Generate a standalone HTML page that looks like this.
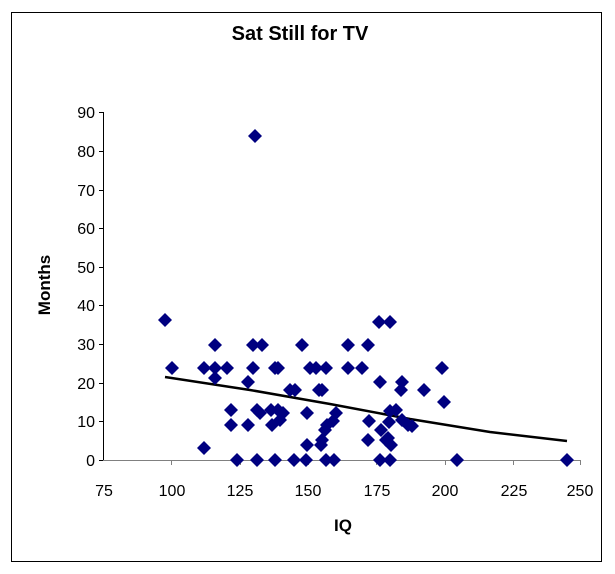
<!DOCTYPE html>
<html><head><style>
body{margin:0;background:#fff;}
svg{display:block;font-family:"Liberation Sans",Arial,sans-serif;}
</style></head><body>
<svg width="615" height="574" viewBox="0 0 615 574">
<rect x="11.5" y="12.5" width="590" height="549" fill="#fff" stroke="#000" stroke-width="1"/>
<text x="300" y="40" font-size="20" font-weight="bold" text-anchor="middle">Sat Still for TV</text>
<g stroke="#000" stroke-width="1">
<line x1="103.5" y1="112" x2="103.5" y2="460"/>
<line x1="99" y1="112.5" x2="103" y2="112.5"/><line x1="99" y1="151.5" x2="103" y2="151.5"/>
<line x1="99" y1="190.5" x2="103" y2="190.5"/><line x1="99" y1="228.5" x2="103" y2="228.5"/>
<line x1="99" y1="267.5" x2="103" y2="267.5"/><line x1="99" y1="305.5" x2="103" y2="305.5"/>
<line x1="99" y1="344.5" x2="103" y2="344.5"/><line x1="99" y1="383.5" x2="103" y2="383.5"/>
<line x1="99" y1="421.5" x2="103" y2="421.5"/><line x1="99" y1="460.5" x2="103" y2="460.5"/>
</g>
<g stroke="#808080" stroke-width="1">
<line x1="103" y1="460.5" x2="580" y2="460.5"/>
<line x1="171.5" y1="460" x2="171.5" y2="465"/><line x1="240.5" y1="460" x2="240.5" y2="465"/>
<line x1="308.5" y1="460" x2="308.5" y2="465"/><line x1="376.5" y1="460" x2="376.5" y2="465"/>
<line x1="445.5" y1="460" x2="445.5" y2="465"/><line x1="513.5" y1="460" x2="513.5" y2="465"/>
<line x1="580.5" y1="460" x2="580.5" y2="465"/>
</g>
<g font-size="16" text-anchor="end">
<text x="95" y="118">90</text><text x="95" y="157">80</text><text x="95" y="196">70</text>
<text x="95" y="234">60</text><text x="95" y="273">50</text><text x="95" y="311">40</text>
<text x="95" y="350">30</text><text x="95" y="389">20</text><text x="95" y="427">10</text>
<text x="95" y="466">0</text>
</g>
<g font-size="16" text-anchor="middle">
<text x="104" y="496">75</text><text x="172" y="496">100</text><text x="240" y="496">125</text>
<text x="308" y="496">150</text><text x="377" y="496">175</text><text x="445" y="496">200</text>
<text x="514" y="496">225</text><text x="580" y="496">250</text>
</g>
<text x="343" y="531" font-size="17" font-weight="bold" text-anchor="middle">IQ</text>
<text transform="translate(50,285) rotate(-90)" font-size="17" font-weight="bold" text-anchor="middle">Months</text>
<polyline points="165,377 250,390 330,404 410,419 490,432 567,441" fill="none" stroke="#000" stroke-width="2.5"/>
<defs><path id="d" d="M0,-7 L7,0 L0,7 L-7,0Z" fill="#000080"/></defs>
<g>
<use href="#d" x="165" y="320"/><use href="#d" x="172" y="368"/><use href="#d" x="204" y="448"/>
<use href="#d" x="204" y="368"/><use href="#d" x="215" y="368"/><use href="#d" x="215" y="345"/>
<use href="#d" x="215" y="378"/><use href="#d" x="227" y="368"/><use href="#d" x="231" y="410"/>
<use href="#d" x="231" y="425"/><use href="#d" x="237" y="460"/><use href="#d" x="248" y="382"/>
<use href="#d" x="248" y="425"/><use href="#d" x="253" y="345"/><use href="#d" x="253" y="368"/>
<use href="#d" x="257" y="410"/><use href="#d" x="260" y="413"/><use href="#d" x="255" y="136"/>
<use href="#d" x="257" y="460"/><use href="#d" x="262" y="345"/><use href="#d" x="275" y="368"/>
<use href="#d" x="278" y="368"/><use href="#d" x="271" y="410"/><use href="#d" x="272" y="425"/>
<use href="#d" x="275" y="460"/><use href="#d" x="278" y="410"/><use href="#d" x="280" y="420"/>
<use href="#d" x="283" y="413"/><use href="#d" x="290" y="390"/><use href="#d" x="295" y="390"/>
<use href="#d" x="302" y="345"/><use href="#d" x="306" y="460"/><use href="#d" x="307" y="445"/>
<use href="#d" x="307" y="413"/><use href="#d" x="310" y="368"/><use href="#d" x="316" y="368"/>
<use href="#d" x="319" y="390"/><use href="#d" x="294" y="460"/><use href="#d" x="322" y="390"/>
<use href="#d" x="326" y="368"/><use href="#d" x="321" y="445"/><use href="#d" x="322" y="440"/>
<use href="#d" x="327" y="425"/><use href="#d" x="325" y="430"/><use href="#d" x="326" y="460"/>
<use href="#d" x="336" y="413"/><use href="#d" x="333" y="421"/><use href="#d" x="334" y="460"/>
<use href="#d" x="348" y="345"/><use href="#d" x="348" y="368"/><use href="#d" x="362" y="368"/>
<use href="#d" x="368" y="345"/><use href="#d" x="380" y="382"/><use href="#d" x="368" y="440"/>
<use href="#d" x="369" y="421"/><use href="#d" x="381" y="430"/><use href="#d" x="379" y="322"/>
<use href="#d" x="380" y="460"/><use href="#d" x="390" y="322"/><use href="#d" x="390" y="411"/>
<use href="#d" x="389" y="422"/><use href="#d" x="391" y="445"/><use href="#d" x="388" y="438"/>
<use href="#d" x="386" y="440"/><use href="#d" x="390" y="460"/><use href="#d" x="396" y="410"/>
<use href="#d" x="402" y="382"/><use href="#d" x="401" y="390"/><use href="#d" x="402" y="420"/>
<use href="#d" x="408" y="425"/><use href="#d" x="412" y="426"/><use href="#d" x="424" y="390"/>
<use href="#d" x="442" y="368"/><use href="#d" x="444" y="402"/><use href="#d" x="457" y="460"/>
<use href="#d" x="567" y="460"/>
</g>
</svg>
</body></html>
